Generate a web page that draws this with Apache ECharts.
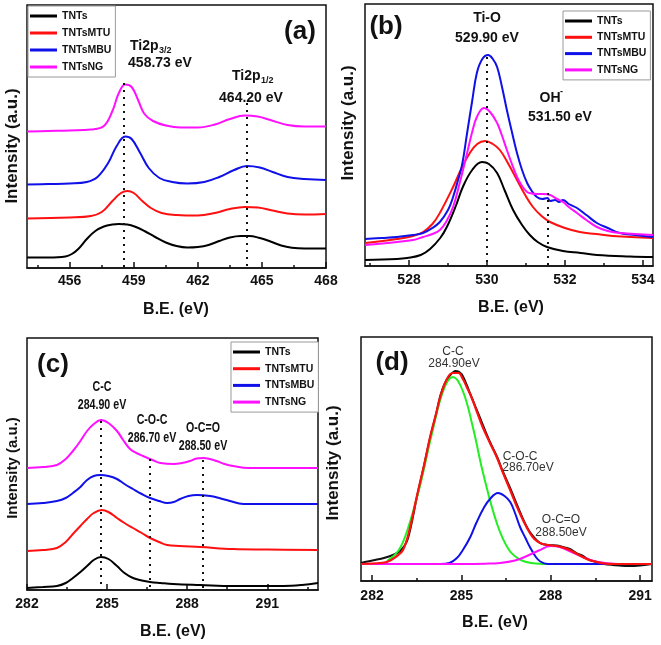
<!DOCTYPE html>
<html>
<head>
<meta charset="utf-8">
<script src="https://cdn.jsdelivr.net/npm/echarts@6/dist/echarts.min.js"></script>
<style>
html,body{margin:0;padding:0;background:#fff;}
#chart{width:661px;height:645px;}
</style>
</head>
<body>
<div id="chart"></div>
<script>
// ---------------- DATA ----------------
const names = ['TNTs', 'TNTsMTU', 'TNTsMBU', 'TNTsNG'];

// (a) Ti 2p  [B.E. eV, intensity a.u.]
const a_TNTs = [[454,10.5],[455,10.5],[455.8,11.5],[456.1,14],[456.4,19],[456.8,29],[457.2,37],[457.6,41.5],[458,43.5],[458.3,44],[458.7,43.5],[459.1,41],[459.5,37],[460,31],[460.5,25.5],[461,22],[461.5,20.5],[462,21],[462.5,23],[463,27],[463.5,30.5],[464,32],[464.4,32],[464.9,30],[465.4,26.5],[465.9,22.5],[466.4,20.3],[467,19.5],[468,19.5]];
const a_MTU = [[454,49.5],[456,50.5],[457,52],[457.5,56],[458,67],[458.4,75],[458.7,77],[459,75],[459.4,67],[459.8,60],[460.3,55],[461,53],[462,52.5],[462.8,55],[463.5,59],[464.2,61],[464.8,60.5],[465.5,57.5],[466.2,54.5],[467,53.5],[468,54]];
const a_MBU = [[454,83.5],[455,84],[456,84.5],[456.8,86],[457.3,91],[457.8,105],[458.2,122],[458.6,131.5],[458.9,129],[459.3,115],[459.7,100],[460.2,90],[460.8,86],[461.5,84.5],[462.3,86],[463,91],[463.7,98],[464.3,102],[464.9,100.5],[465.5,96],[466.2,91],[467,89],[468,88]];
const a_NG = [[454,136.5],[455,137],[456,137.5],[457,138.5],[457.6,142],[458,157],[458.3,175],[458.6,183.5],[458.9,181],[459.2,168],[459.5,154],[459.9,147],[460.5,142.5],[461.2,140.5],[462,140.5],[462.8,143.5],[463.5,149],[464.2,152.5],[464.8,151.5],[465.4,148],[466.2,143],[467,141.5],[468,141.5]];
const a_peakLines = [[458.55,185],[464.3,165]];
const a_ticks = [456,459,462,465,468];
const a_minor = [454.5,457.5,460.5,463.5,466.5];

// (b) O 1s
const b_TNTs = [[526.87,6],[527.69,7],[527.95,8],[528.3,11],[528.54,17],[528.8,28],[528.97,39],[529.2,60],[529.38,79],[529.62,96],[529.87,104],[530.05,102],[530.26,93],[530.45,76],[530.67,56],[530.9,41],[531.1,31],[531.3,24],[531.54,19],[531.95,15],[532.4,13],[532.82,11],[533.67,9.5],[534.26,9]];
const b_MTU = [[526.87,23],[527.69,27],[528.1,30],[528.36,34],[528.6,42],[528.79,53],[529.13,79],[529.35,98],[529.56,113],[529.75,122],[529.95,125],[530.15,122],[530.33,116],[530.55,102],[530.77,86],[530.98,71],[531.18,59],[531.4,50],[531.62,44],[532,38],[532.38,34],[532.8,32],[533.23,30],[534.26,28]];
const b_MBU = [[526.87,27],[527.3,28],[527.69,29],[528.1,31],[528.36,33],[528.6,38],[528.79,44],[529.0,56],[529.13,69],[529.25,85],[529.36,101],[529.49,133],[529.62,165],[529.74,193],[529.88,207],[530.03,211],[530.15,207],[530.26,199],[530.38,180],[530.51,156],[530.64,134],[530.77,113],[530.9,96],[531.03,83],[531.15,75],[531.28,69],[531.42,67],[531.55,68],[531.62,65],[531.75,66],[531.85,64],[531.95,66],[532.1,62],[532.31,58],[532.55,51],[532.82,43],[533.1,38],[533.41,33],[533.8,31],[534.26,29]];
const b_NG = [[526.87,21],[527.69,24],[528.1,26],[528.36,29],[528.6,32],[528.79,36],[528.95,44],[529.13,59],[529.3,83],[529.49,113],[529.62,134],[529.74,149],[529.92,158],[530.08,154],[530.26,143],[530.38,131],[530.51,116],[530.64,102],[530.77,89],[530.9,80],[531.03,74],[531.15,72.5],[531.28,72],[531.45,72],[531.62,71],[531.8,67],[531.95,64],[532.1,59],[532.31,53],[532.55,46],[532.82,39],[533.1,35],[533.41,33],[534.26,31]];
const b_peakLines = [[530.0,209],[531.56,73]];
const b_ticks = [528,530,532,534];
const b_minor = [527,529,531,533];

// (c) C 1s
const c_TNTs = [[282,2],[282.6,3],[283.12,4],[283.45,7],[283.72,12],[284.0,18],[284.25,24],[284.5,30],[284.77,33],[285.05,31],[285.37,24],[285.65,17],[285.97,12],[286.3,9.5],[286.61,8],[287.0,7],[287.47,6],[288.49,5],[289.72,4],[290.6,4],[291.6,4],[292.3,5],[292.9,7]];
const c_MTU = [[282,39],[282.6,40],[283.12,42],[283.45,48],[283.72,56],[284.0,64],[284.25,71],[284.5,77],[284.8,80],[285.05,78],[285.37,72],[285.65,67],[285.97,62],[286.3,57],[286.61,52],[286.95,48],[287.25,45],[287.7,44],[288.49,43],[289.72,41],[291,40.5],[292.9,40]];
const c_MBU = [[282,86],[282.6,87],[283.12,89],[283.45,92],[283.72,97],[284.0,103],[284.25,110],[284.5,114],[284.74,115],[285.05,114],[285.37,111],[285.65,106],[285.97,101],[286.3,96],[286.61,92],[286.95,89],[287.25,87],[287.5,88],[287.74,91],[288.05,94],[288.37,95],[288.86,94],[289.2,92],[289.6,89],[290.1,86],[291,86],[292.9,86]];
const c_NG = [[282,122],[282.6,123],[283.12,125],[283.45,131],[283.72,139],[284.0,149],[284.25,159],[284.5,166],[284.77,170],[285.05,167],[285.37,159],[285.6,150],[285.86,141],[286.1,137],[286.35,134],[286.7,130],[287,127],[287.5,126],[287.8,127],[288.1,129],[288.35,131.5],[288.6,132],[288.85,131],[289.1,129],[289.4,126],[289.72,124],[290.3,122],[291.5,122],[292.9,122]];
const c_peakLines = [[284.77,169],[286.6,131],[288.6,130]];
const c_ticks = [282,285,288,291];
const c_minor = [283.5,286.5,289.5,292.5];

// (d) C 1s peak fitting (TNTsNG)
const d_raw = [[281.63,18],[281.85,19.5],[282.1,21],[282.4,23],[282.7,26],[282.95,30],[283.2,42],[283.5,83],[283.75,116],[283.95,143],[284.15,167],[284.3,186],[284.45,198],[284.6,205],[284.8,210],[285.0,207],[285.18,196],[285.3,187],[285.6,165],[285.96,139],[286.2,124],[286.4,109],[286.65,92],[286.87,76],[287.1,60],[287.3,49],[287.64,38],[287.9,36],[288.2,35.5],[288.4,34],[288.64,32],[288.85,28],[289.08,25],[289.3,21],[289.55,19],[289.8,17],[290.08,16],[290.3,15.5],[290.6,15],[291.0,15.5],[291.4,17]];
const d_fit = [[281.63,17],[282.0,17.5],[282.5,19],[282.84,25],[283.04,31],[283.25,50],[283.5,84],[283.75,116],[283.95,144],[284.15,167],[284.3,185],[284.5,201],[284.7,208],[284.9,208],[285.05,202],[285.18,194],[285.35,183],[285.5,171],[285.7,155],[285.96,138],[286.2,123],[286.4,108],[286.65,90],[286.87,74],[287.1,59],[287.3,48],[287.45,42],[287.64,38],[287.9,36],[288.2,35],[288.4,33.5],[288.64,31],[288.85,27.5],[289.08,24],[289.3,21],[289.55,19],[289.8,17.5],[290.08,17],[290.6,17],[291.4,17]];
const d_CC = [[282.5,20],[282.9,31],[283.2,52],[283.6,94],[284.0,146],[284.4,191],[284.72,204],[285.05,190],[285.4,152],[285.72,109],[286.2,57],[286.6,31],[287.0,21],[287.5,17.5],[288.0,17]];
const d_COC = [[284.3,17],[284.6,18],[284.85,23],[285.05,31],[285.3,44],[285.5,58],[285.75,73],[285.96,82],[286.23,88],[286.45,85],[286.64,79],[286.8,68],[286.97,54],[287.15,43],[287.3,34],[287.5,24],[287.65,19.5],[287.9,17],[288.5,17],[290.8,17]];
const d_OCO = [[281.63,17],[285,17],[285.8,17.3],[286.3,18],[286.8,20.5],[287.2,25],[287.6,30.5],[288.0,35],[288.3,34],[288.7,29],[289.1,23.5],[289.5,19.5],[290,17.5],[290.5,17],[291.4,17]];
const d_ticks = [282,285,288,291];
const d_minor = [283.5,286.5,289.5];

// ---------------- CHART ----------------
const FF = '"Liberation Sans", Arial, sans-serif';
const COLORS = ['#000000', '#ff1010', '#1010e8', '#ff10ff'];

const grids = [
  {left: 27, top: 5, width: 299, height: 263},
  {left: 365, top: 4, width: 288, height: 262},
  {left: 27, top: 338, width: 291, height: 252},
  {left: 361, top: 337, width: 291, height: 244}
];
const xr = [[454, 468], [526.87, 534.26], [282, 292.9], [281.63, 291.4]];
const ymax = [263, 262, 252, 244];
const majors = [a_ticks, b_ticks, c_ticks, d_ticks];
const minors = [a_minor, b_minor, c_minor, d_minor];
const labMargin = [6, 7, 7, 8];

const xAxis = [];
const yAxis = [];
for (let i = 0; i < 4; i++) {
  xAxis.push({
    type: 'value', gridIndex: i, position: 'bottom', min: xr[i][0], max: xr[i][1],
    axisLine: {show: true, lineStyle: {color: '#111', width: 1.5}},
    axisTick: {show: true, inside: true, length: 6, lineStyle: {color: '#111', width: 1.5}, customValues: majors[i]},
    axisLabel: {show: true, customValues: majors[i], margin: labMargin[i], fontFamily: FF, fontWeight: 'bold', fontSize: 14, color: '#111', formatter: v => String(Math.round(v))},
    splitLine: {show: false}
  });
}
for (let i = 0; i < 4; i++) {
  xAxis.push({
    type: 'value', gridIndex: i, position: 'bottom', offset: 0, min: xr[i][0], max: xr[i][1],
    axisLine: {show: false},
    axisTick: {show: true, inside: true, length: 3, lineStyle: {color: '#111', width: 1.5}, customValues: minors[i]},
    axisLabel: {show: false},
    splitLine: {show: false}
  });
  yAxis.push({type: 'value', gridIndex: i, min: 0, max: ymax[i], show: false});
}

function dotted(lines) {
  return {
    silent: true, symbol: 'none', animation: false,
    label: {show: false},
    lineStyle: {color: '#111', width: 2, type: [2, 5]},
    data: lines.map(p => [{coord: [p[0], p[1]]}, {coord: [p[0], 0]}])
  };
}

function line(name, data, gi, color, extra) {
  return Object.assign({
    type: 'line', name: name, data: data, xAxisIndex: gi, yAxisIndex: gi,
    showSymbol: false, symbol: 'none', smooth: 0.4,
    lineStyle: {width: 2, color: color}, itemStyle: {color: color}, z: 3
  }, extra || {});
}

const series = [];
const panelData = [
  [a_TNTs, a_MTU, a_MBU, a_NG, a_peakLines],
  [b_TNTs, b_MTU, b_MBU, b_NG, b_peakLines],
  [c_TNTs, c_MTU, c_MBU, c_NG, c_peakLines]
];
panelData.forEach((pd, gi) => {
  for (let k = 0; k < 4; k++) {
    const ex = {};
    if (k === 3) ex.markLine = dotted(pd[4]);
    series.push(line(names[k], pd[k], gi, COLORS[k], ex));
  }
});
series.push(line('raw', d_raw, 3, '#111111', {smooth: 0.3}));
series.push(line('C-C', d_CC, 3, '#22ee22'));
series.push(line('C-O-C', d_COC, 3, '#1010e8'));
series.push(line('O-C=O', d_OCO, 3, '#ff10ff'));
series.push(line('fit', d_fit, 3, '#ff1010', {lineStyle: {width: 2.2, color: '#ff1010'}}));

function legend(left, top, gap) {
  return {
    show: true, orient: 'vertical', left: left, top: top, data: names,
    icon: 'rect', itemWidth: 27, itemHeight: 3, itemGap: gap,
    padding: [3, 4, 3, 2], borderColor: '#999', borderWidth: 1, backgroundColor: '#fff',
    selectedMode: false,
    textStyle: {fontFamily: FF, fontWeight: 'bold', fontSize: 10.5, color: '#111', lineHeight: 14}
  };
}

function txt(x, y, s, font, opts) {
  opts = opts || {};
  return {
    type: 'text', x: x, y: y, rotation: opts.rot || 0, scaleX: opts.sx || 1, z: 100,
    style: {
      text: s, font: font, fill: opts.fill || '#111',
      textAlign: opts.align || 'center', align: opts.align || 'center',
      textVerticalAlign: 'middle', verticalAlign: 'middle'
    }
  };
}
const B14 = 'bold 14px ' + FF;
const B9 = 'bold 9px ' + FF;
const B16 = 'bold 16px ' + FF;
const B17 = 'bold 17px ' + FF;
const B26 = 'bold 26px ' + FF;
const N12 = '12px ' + FF;
const NC = {sx: 0.76};
const graphic = [
  // panel labels
  txt(300, 32, '(a)', B26), txt(386, 27, '(b)', B26), txt(53, 365, '(c)', B26), txt(392, 363, '(d)', B26),
  // axis titles
  txt(176, 310, 'B.E. (eV)', B16), txt(511, 308, 'B.E. (eV)', B16),
  txt(173, 632, 'B.E. (eV)', B16), txt(495, 623, 'B.E. (eV)', B16),
  txt(12, 146, 'Intensity (a.u.)', B17, {rot: Math.PI / 2}),
  txt(348, 123, 'Intensity (a.u.)', B17, {rot: Math.PI / 2}),
  txt(13, 468, 'Intensity (a.u.)', 'bold 15px ' + FF, {rot: Math.PI / 2}),
  txt(333, 463, 'Intensity (a.u.)', B17, {rot: Math.PI / 2}),
  // (a) annotations
  txt(130, 46, 'Ti2p', B14, {align: 'left'}), txt(159, 51, '3/2', B9, {align: 'left'}),
  txt(160, 63, '458.73 eV', B14),
  txt(232, 76, 'Ti2p', B14, {align: 'left'}), txt(261, 81, '1/2', B9, {align: 'left'}),
  txt(251, 98, '464.20 eV', B14),
  // (b) annotations
  txt(487, 18, 'Ti-O', B14), txt(487, 38, '529.90 eV', B14),
  txt(550, 98, 'OH', B14), txt(560, 92, '-', B9, {align: 'left'}),
  txt(560, 117, '531.50 eV', B14),
  // (c) annotations
  txt(102, 387, 'C-C', B14, NC), txt(102, 405, '284.90 eV', B14, NC),
  txt(152, 420, 'C-O-C', B14, NC), txt(152, 438, '286.70 eV', B14, NC),
  txt(203, 428, 'O-C=O', B14, NC), txt(203, 446, '288.50 eV', B14, NC),
  // (d) annotations
  txt(453, 352, 'C-C', N12, {fill: '#333'}), txt(454, 364, '284.90eV', N12, {fill: '#333'}),
  txt(520, 457, 'C-O-C', N12, {fill: '#333'}), txt(528, 468, '286.70eV', N12, {fill: '#333'}),
  txt(561, 520, 'O-C=O', N12, {fill: '#333'}), txt(561, 533, '288.50eV', N12, {fill: '#333'})
];

const chart = echarts.init(document.getElementById('chart'), null, {renderer: 'canvas'});
chart.setOption({
  animation: false,
  backgroundColor: '#fff',
  grid: grids.map(g => Object.assign({show: true, borderColor: '#111', borderWidth: 1.5, backgroundColor: 'transparent'}, g)),
  xAxis: xAxis,
  yAxis: yAxis,
  legend: [legend(28, 6, 3), legend(563, 11, 2.3), legend(231, 342, 2.7)],
  series: series,
  graphic: graphic
});
</script>
</body>
</html>
